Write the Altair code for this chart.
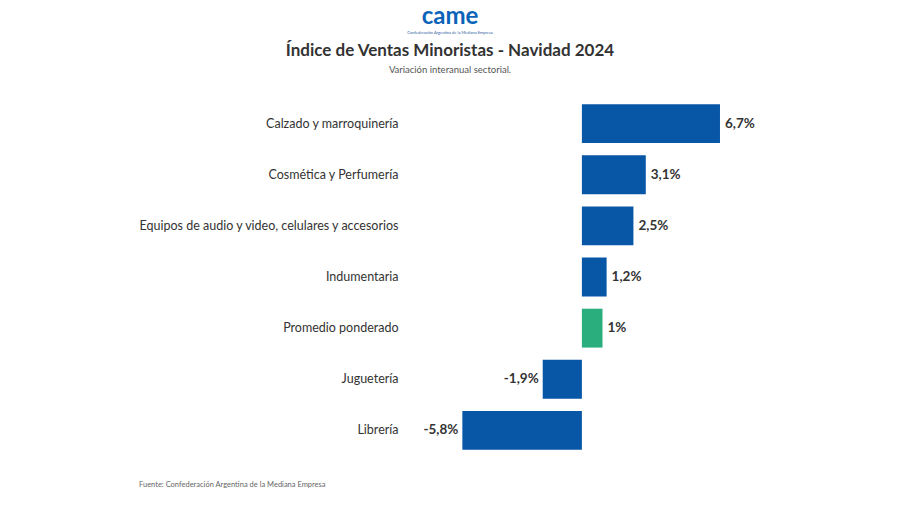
import altair as alt
import pandas as pd

categories = [
    "Calzado y marroquinería",
    "Cosmética y Perfumería",
    "Equipos de audio y video, celulares y accesorios",
    "Indumentaria",
    "Promedio ponderado",
    "Juguetería",
    "Librería",
]
values = [6.7, 3.1, 2.5, 1.2, 1.0, -1.9, -5.8]
kinds = ["rubro", "rubro", "rubro", "rubro", "promedio", "rubro", "rubro"]

title_text = "Índice de Ventas Minoristas - Navidad 2024"
subtitle_text = "Variación interanual sectorial."
source_text = "Fuente: Confederación Argentina de la Mediana Empresa"
logo_text = "came"
logo_sub = "Confederación Argentina de la Mediana Empresa"

df = pd.DataFrame({
    "cat": categories,
    "val": values,
    "kind": kinds,
    "label": [f"{v:g}".replace(".", ",") + "%" for v in values],
})

W, H = 371, 358
FONT = "Lato"

x = alt.X("val:Q", scale=alt.Scale(domain=[-8, 10]), axis=None)
y = alt.Y("cat:N", sort=categories, title=None,
          scale=alt.Scale(paddingInner=0.24, paddingOuter=0.12),
          axis=alt.Axis(domain=False, ticks=False, labelPadding=19, labelFontSize=12.5,
                        labelFont=FONT, labelColor="#333333", labelLimit=400))

bars = alt.Chart(df).mark_bar().encode(
    x=x, x2=alt.datum(0), y=y,
    color=alt.Color("kind:N", scale=alt.Scale(domain=["rubro", "promedio"],
                                               range=["#0856A6", "#2BAE7D"]), legend=None),
)

pos = alt.Chart(df).transform_filter("datum.val >= 0").mark_text(
    align="left", dx=5, font=FONT, fontSize=13.5, fontWeight="bold", color="#333333"
).encode(x=x, y=y, text="label:N")

neg = alt.Chart(df).transform_filter("datum.val < 0").mark_text(
    align="right", dx=-4, font=FONT, fontSize=13.5, fontWeight="bold", color="#333333"
).encode(x=x, y=y, text="label:N")

def deco(txt, px, py, size, color, weight="normal", align="center"):
    return alt.Chart(pd.DataFrame({"t": [txt]})).mark_text(
        font=FONT, fontSize=size, color=color, fontWeight=weight, align=align, baseline="middle"
    ).encode(x=alt.value(px), y=alt.value(py), text="t:N")

ox, oy = 417, 98
decos = [
    deco(logo_text, 450 - ox, 17 - oy, 24, "#0A63B8", "bold"),
    deco(logo_sub, 450 - ox, 33 - oy, 4, "#3060A0"),
    deco(title_text, 450 - ox, 51 - oy, 17, "#333333", "bold"),
    deco(subtitle_text, 450 - ox, 70 - oy, 9.5, "#555555"),
    deco(source_text, 139 - ox, 485 - oy, 7.5, "#666666", align="left"),
]

chart = alt.layer(bars, pos, neg, *decos).properties(
    width=W, height=H,
    autosize=alt.AutoSizeParams(type="none"),
    padding={"left": ox, "top": oy, "right": 900 - ox - W, "bottom": 505 - oy - H},
    background="white",
).configure_view(stroke=None)

chart.save("out.html", embed_options={"renderer": "svg", "actions": False})
